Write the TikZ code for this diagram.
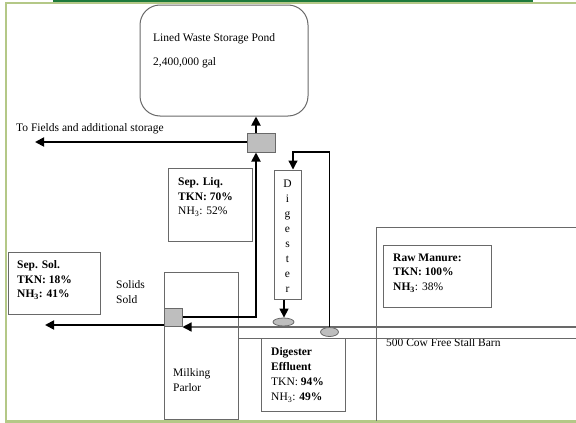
\documentclass[tikz,border=0pt]{standalone}
\usepackage{fontspec}
\setmainfont{Liberation Serif}
\usetikzlibrary{arrows.meta,shapes.geometric}
\definecolor{framegreen}{RGB}{180,200,135}
\definecolor{bargreen}{RGB}{30,122,60}
\definecolor{boxgray}{RGB}{105,105,105}
\definecolor{sepfill}{RGB}{190,190,190}

\begin{document}
\begin{tikzpicture}[x=1pt,y=-1pt,
  font=\fontsize{11.5}{14.5}\selectfont,
  box/.style={draw=boxgray,line width=1pt,inner sep=0pt},
  sepbox/.style={draw=boxgray,fill=sepfill,line width=1pt,inner sep=0pt},
  pit/.style={ellipse,draw=boxgray,fill=sepfill,line width=0.8pt,inner sep=0pt},
  txt/.style={anchor=north west,inner sep=0pt,align=left},
  wide/.style={font=\fontsize{11.5}{15}\selectfont},
  flow/.style={line width=1.8pt,-{Triangle[length=9pt,width=9pt]}},
  feed/.style={line width=1.3pt,-{Triangle[length=9pt,width=9pt]}},
  wall/.style={draw=boxgray,line width=1pt}]
\useasboundingbox (0,0) rectangle (576,423);
\fill[bargreen] (53,0) rectangle (533,1.6);
\draw[framegreen,line width=2.5pt] (576,2.8) -- (6,2.8) -- (6,421.5) -- (576,421.5);

\node[box,rounded corners=20pt,minimum width=168pt,minimum height=111pt] (pond) at (224,60.5) {};
\node[txt] (pondtxt) at (153,33.5) {Lined Waste Storage Pond\\[9.5pt]2,400,000 gal};
\node[sepbox,minimum width=28pt,minimum height=19pt] (sep) at (261,142.5) {};
\node[sepbox,minimum width=18pt,minimum height=18pt] (solsep) at (173,317) {};
\node[box,minimum width=27pt,minimum height=129pt] (dig) at (287.5,234.5) {};
\node[inner sep=0pt,anchor=north,align=center,wide] (digtxt) at (287.5,180) {D\\i\\g\\e\\s\\t\\e\\r};
\node[box,minimum width=74pt,minimum height=147pt] (parlor) at (201,345.5) {};
\node[txt,wide] (parlortxt) at (173,368.5) {Milking\\Parlor};
\node[box,minimum width=84pt,minimum height=73pt] (sepliq) at (210,204.5) {};
\node[txt] (sepliqtxt) at (178,177.5) {\textbf{Sep. Liq.}\\\textbf{TKN: 70\%}\\NH\textsubscript{3}: 52\%};
\node[box,minimum width=92pt,minimum height=62pt] (sepsol) at (54,283) {};
\node[txt] (sepsoltxt) at (17,260.5) {\textbf{Sep. Sol.}\\\textbf{TKN: 18\%}\\\textbf{NH\textsubscript{3}: 41\%}};
\node[box,minimum width=108pt,minimum height=62pt] (raw) at (437,276) {};
\node[txt] (rawtxt) at (393,253.5) {\textbf{Raw Manure:}\\\textbf{TKN: 100\%}\\\textbf{NH\textsubscript{3}}: 38\%};
\node[box,minimum width=84pt,minimum height=73pt] (eff) at (303,374.5) {};
\node[txt,wide] (efftxt) at (271,347.5) {\textbf{Digester}\\\textbf{Effluent}\\TKN: \textbf{94\%}\\NH\textsubscript{3}: \textbf{49\%}};
\node[txt] (fieldstxt) at (16,123.5) {To Fields and additional storage};
\node[txt,wide] (soldtxt) at (116,280.5) {Solids\\Sold};
\node[txt] (barntxt) at (386,338.5) {500 Cow Free Stall Barn};

\draw[wall] (376,421) -- (376,227) -- (576,227);
\coordinate (barnE) at (576,327);
\coordinate (barnS) at (576,338);
\draw[wall,line width=1.3pt,-{Triangle[length=9pt,width=9pt,color=black]}] (barnE) -- (barnE -| solsep.east);
\draw[wall] (parlor.east |- barnS) -- (barnS);
\node[pit,minimum width=21pt,minimum height=8pt] (ell1) at (283.5,322) {};
\node[pit,minimum width=18pt,minimum height=9pt] (ell2) at (329.5,332) {};

\draw[flow] ([xshift=-5pt]sep.north) -- ([xshift=-5pt]sep.north |- pond.south);
\coordinate (fields) at (35,142);
\draw[flow] (sep.west |- fields) -- (fields);
\draw[flow] (solsep.east) -| ([xshift=-5pt]sep.south);
\coordinate (sold) at (45,325);
\draw[flow] (solsep.west |- sold) -- (sold);
\draw[feed] ([xshift=-3.5pt]dig.south) -- ([xshift=-3.5pt]dig.south |- ell1.north);
\coordinate (fb) at (329.5,152);
\draw[feed] (ell2.north) -- (fb) -| ([xshift=5.5pt]dig.north);
\end{tikzpicture}
\end{document}
